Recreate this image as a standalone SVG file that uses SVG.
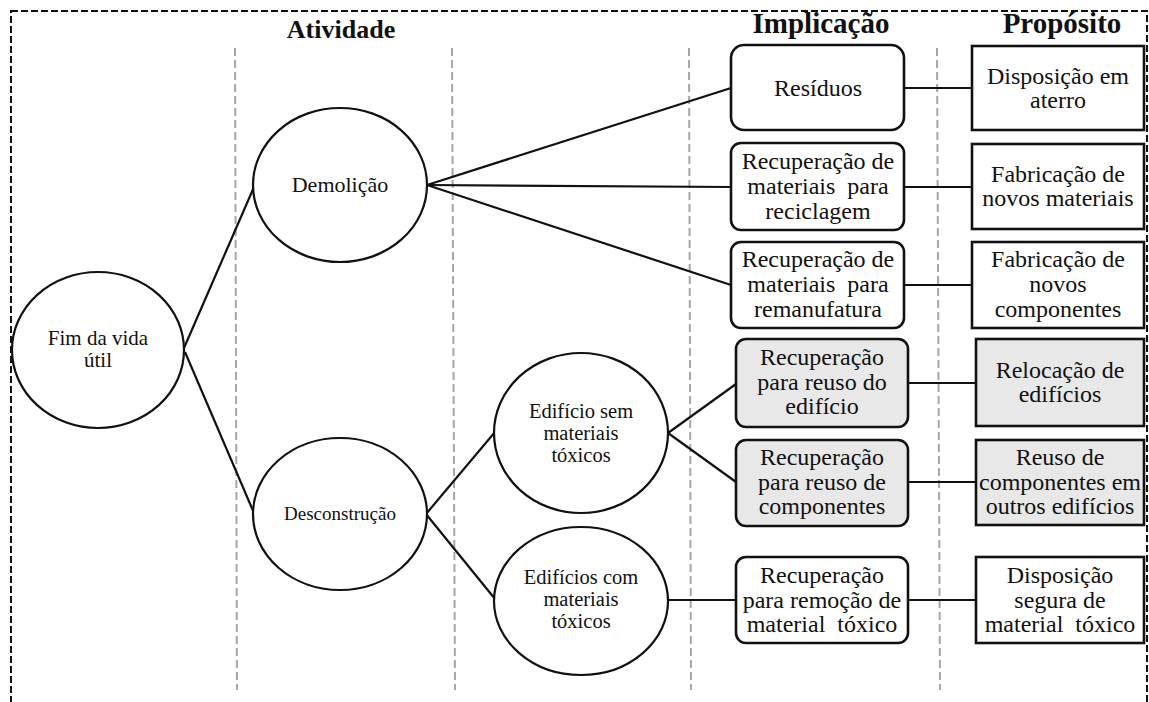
<svg xmlns="http://www.w3.org/2000/svg" width="1149" height="702" viewBox="0 0 1149 702">
<style>
.t{font-family:"Liberation Serif","Times New Roman",serif;fill:#111;text-anchor:middle}
.h{font-family:"Liberation Serif","Times New Roman",serif;font-weight:bold;fill:#111;text-anchor:middle}
.bx{font-family:"Liberation Serif","Times New Roman",serif;font-size:24px}
.el{fill:#fff;stroke:#111;stroke-width:2.2}
.rb{fill:#fff;stroke:#111;stroke-width:2.6}
.gb{fill:#e8e8e8;stroke:#111;stroke-width:2.6}
.c{stroke:#111;stroke-width:2.2;fill:none}
.g{stroke:#a6a6a6;stroke-width:2;stroke-dasharray:8 4;fill:none}
</style>
<rect x="0" y="0" width="1149" height="702" fill="#fff"/>
<rect x="11" y="11" width="1136" height="720" fill="none" stroke="#111" stroke-width="2" stroke-dasharray="7 3"/>
<g id="guides">
<line class="g" x1="235" y1="48" x2="237" y2="690"/>
<line class="g" x1="452" y1="48" x2="455" y2="690"/>
<line class="g" x1="689" y1="48" x2="691" y2="690"/>
<line class="g" x1="937" y1="48" x2="940" y2="690"/>
</g>
<g id="headers">
<text class="h" x="341" y="38" font-size="26">Atividade</text>
<text class="h" x="821" y="33" font-size="29">Implicação</text>
<text class="h" x="1062" y="33" font-size="29">Propósito</text>
</g>
<g id="connectors">
<line class="c" x1="184" y1="348" x2="254" y2="187"/>
<line class="c" x1="185" y1="352" x2="254" y2="513"/>
<line class="c" x1="427" y1="185" x2="731" y2="88"/>
<line class="c" x1="427" y1="185" x2="731" y2="187"/>
<line class="c" x1="427" y1="185" x2="731" y2="285"/>
<line class="c" x1="904" y1="88" x2="972" y2="88"/>
<line class="c" x1="904" y1="187" x2="972" y2="187"/>
<line class="c" x1="904" y1="285" x2="972" y2="285"/>
<line class="c" x1="426" y1="514" x2="495" y2="432"/>
<line class="c" x1="426" y1="514" x2="495" y2="599"/>
<line class="c" x1="668" y1="433" x2="736" y2="384"/>
<line class="c" x1="668" y1="433" x2="736" y2="482"/>
<line class="c" x1="908" y1="383" x2="976" y2="383"/>
<line class="c" x1="908" y1="482" x2="976" y2="482"/>
<line class="c" x1="668" y1="600" x2="736" y2="600"/>
<line class="c" x1="908" y1="600" x2="976" y2="600"/>
</g>
<g id="fim">
<ellipse class="el" cx="98" cy="350" rx="86" ry="78"/>
<text class="t" font-size="21"><tspan x="98" y="345">Fim da vida</tspan><tspan x="98" y="367">útil</tspan></text>
</g>
<g id="demolicao">
<ellipse class="el" cx="340" cy="185" rx="87" ry="77"/>
<text class="t" x="340" y="192" font-size="22">Demolição</text>
</g>
<g id="desconstrucao">
<ellipse class="el" cx="340" cy="514" rx="87" ry="76"/>
<text class="t" x="340" y="520" font-size="19">Desconstrução</text>
</g>
<g id="sem-toxicos">
<ellipse class="el" cx="581" cy="433" rx="87" ry="80"/>
<text class="t" font-size="20.5"><tspan x="581" y="418">Edifício sem</tspan><tspan x="581" y="440">materiais</tspan><tspan x="581" y="462">tóxicos</tspan></text>
</g>
<g id="com-toxicos">
<ellipse class="el" cx="581" cy="601" rx="87" ry="74"/>
<text class="t" font-size="20.5"><tspan x="581" y="584">Edifícios com</tspan><tspan x="581" y="606">materiais</tspan><tspan x="581" y="628">tóxicos</tspan></text>
</g>
<g id="residuos">
<rect class="rb" x="731" y="45" width="173" height="85" rx="13"/>
<text class="t bx" x="818" y="96">Resíduos</text>
</g>
<g id="reciclagem">
<rect class="rb" x="731" y="143" width="173" height="87" rx="10"/>
<text class="t bx"><tspan x="818" y="169">Recuperação de</tspan><tspan x="818" y="194" style="white-space:pre">materiais  para</tspan><tspan x="818" y="219">reciclagem</tspan></text>
</g>
<g id="remanufatura">
<rect class="rb" x="731" y="242" width="173" height="86" rx="10"/>
<text class="t bx"><tspan x="818" y="267">Recuperação de</tspan><tspan x="818" y="292" style="white-space:pre">materiais  para</tspan><tspan x="818" y="317">remanufatura</tspan></text>
</g>
<g id="reuso-edificio">
<rect class="gb" x="736" y="339" width="172" height="88" rx="10"/>
<text class="t bx"><tspan x="822" y="365">Recuperação</tspan><tspan x="822" y="390">para reuso do</tspan><tspan x="822" y="414">edifício</tspan></text>
</g>
<g id="reuso-componentes">
<rect class="gb" x="736" y="440" width="172" height="86" rx="10"/>
<text class="t bx"><tspan x="822" y="465">Recuperação</tspan><tspan x="822" y="490">para reuso de</tspan><tspan x="822" y="514">componentes</tspan></text>
</g>
<g id="remocao">
<rect class="rb" x="736" y="557" width="172" height="86" rx="10"/>
<text class="t bx"><tspan x="822" y="583">Recuperação</tspan><tspan x="822" y="608">para remoção de</tspan><tspan x="822" y="632" style="white-space:pre">material  tóxico</tspan></text>
</g>
<g id="aterro">
<rect class="rb" x="972" y="46" width="172" height="84"/>
<text class="t bx"><tspan x="1058" y="84">Disposição em</tspan><tspan x="1058" y="108">aterro</tspan></text>
</g>
<g id="novos-materiais">
<rect class="rb" x="972" y="144" width="172" height="85"/>
<text class="t bx"><tspan x="1058" y="182">Fabricação de</tspan><tspan x="1058" y="206">novos materiais</tspan></text>
</g>
<g id="novos-componentes">
<rect class="rb" x="972" y="242" width="172" height="86"/>
<text class="t bx"><tspan x="1058" y="267">Fabricação de</tspan><tspan x="1058" y="292">novos</tspan><tspan x="1058" y="317">componentes</tspan></text>
</g>
<g id="relocacao">
<rect class="gb" x="976" y="339" width="168" height="87"/>
<text class="t bx"><tspan x="1060" y="378">Relocação de</tspan><tspan x="1060" y="402">edifícios</tspan></text>
</g>
<g id="reuso-outros">
<rect class="gb" x="976" y="440" width="168" height="85"/>
<text class="t bx"><tspan x="1060" y="465">Reuso de</tspan><tspan x="1060" y="490">componentes em</tspan><tspan x="1060" y="514">outros edifícios</tspan></text>
</g>
<g id="disposicao-segura">
<rect class="rb" x="976" y="557" width="168" height="86"/>
<text class="t bx"><tspan x="1060" y="583">Disposição</tspan><tspan x="1060" y="608">segura de</tspan><tspan x="1060" y="632" style="white-space:pre">material  tóxico</tspan></text>
</g>
</svg>
